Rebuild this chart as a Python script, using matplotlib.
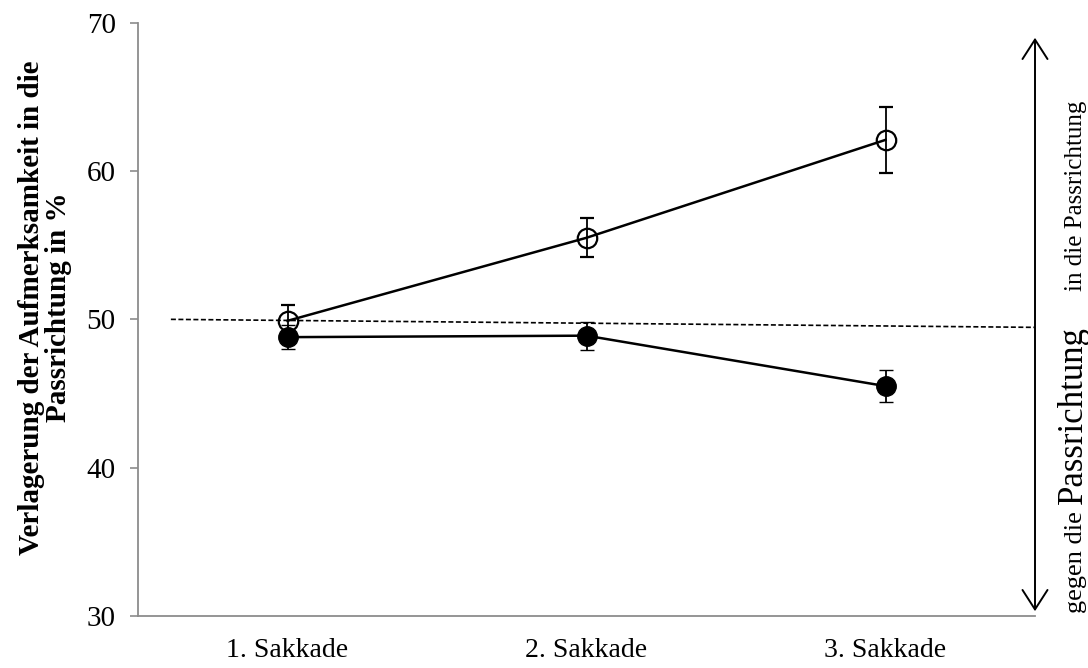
import matplotlib
matplotlib.use("Agg")
import matplotlib.pyplot as plt

# Data
categories = ["1. Sakkade", "2. Sakkade", "3. Sakkade"]
open_values = [49.9, 55.5, 62.1]
open_errors = [1.05, 1.3, 2.25]
filled_values = [48.8, 48.9, 45.5]
filled_errors = [0.8, 0.95, 1.08]
ref_x = [-0.39, 2.5]
ref_y = [50.0, 49.46]
y_ticks = [30, 40, 50, 60, 70]

plt.rcParams["font.family"] = ["Liberation Serif", "DejaVu Serif"]

W, H = 1088, 668
fig = plt.figure(figsize=(W / 100, H / 100), dpi=100)
ax = fig.add_axes([138 / W, 1 - 616 / H, (1035 - 138) / W, (616 - 22.7) / H])

x = list(range(len(categories)))

# reference dashed line
ax.plot(ref_x, ref_y, color="black", lw=1.2, ls=(0, (3, 1.5)), zorder=1)

ax.errorbar(x, open_values, yerr=open_errors, color="black", lw=1.8,
            marker="o", markersize=14, markerfacecolor="none",
            markeredgewidth=1.6, ecolor="black", elinewidth=1.3,
            capsize=5, capthick=1.3, zorder=3)
ax.errorbar(x, filled_values, yerr=filled_errors, color="black", lw=1.8,
            marker="o", markersize=14, markerfacecolor="black",
            markeredgewidth=1.0, ecolor="black", elinewidth=1.3,
            capsize=5, capthick=1.3, zorder=3)

ax.set_xlim(-0.5, 2.5)
ax.set_ylim(30, 70)
ax.set_yticks(y_ticks)
ax.set_xticks(x)
ax.set_xticklabels(categories, fontsize=20)
ax.tick_params(axis="x", length=0, pad=16)
ax.tick_params(axis="y", length=6, width=1.2, color="#8c8c8c", pad=10,
               labelsize=21, direction="out")
for side in ("top", "right"):
    ax.spines[side].set_visible(False)
for side in ("left", "bottom"):
    ax.spines[side].set_color("#8c8c8c")
    ax.spines[side].set_linewidth(1.3)

ax.set_ylabel("Verlagerung der Aufmerksamkeit in die\nPassrichtung in %",
              fontsize=21, fontweight="bold", linespacing=1.0)
ax.yaxis.set_label_coords(-0.074, 0.52)

# double-headed arrow on the right
ax_x = 1035 / W
fig.add_artist(matplotlib.patches.FancyArrowPatch(
    (ax_x, 1 - 614 / H), (ax_x, 1 - 35 / H), transform=fig.transFigure,
    arrowstyle="<->,head_length=1.4,head_width=0.9", mutation_scale=10,
    color="black", lw=1.4))

# direction labels, written bottom-to-top along a shared baseline
base_x = 1082 / W
fig.canvas.draw()
renderer = fig.canvas.get_renderer()
y_cur = 1 - 613 / H
parts = [("gegen die ", 19, 0), ("Passrichtung", 25, 0), ("in die Passrichtung", 18, 36)]
for s, fs, gap in parts:
    y_cur += gap / H
    t = fig.text(base_x, y_cur, s, fontsize=fs, rotation=90,
                 rotation_mode="anchor", ha="left", va="baseline")
    bb = t.get_window_extent(renderer)
    y_cur += bb.height / H

fig.savefig("out.png", dpi=100)
